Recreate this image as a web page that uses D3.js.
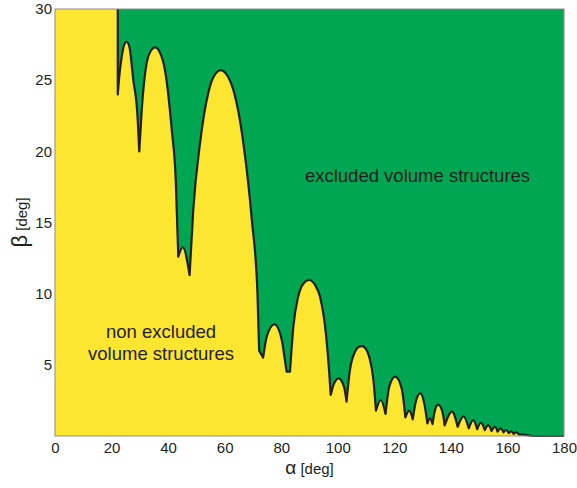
<!DOCTYPE html>
<html>
<head>
<meta charset="utf-8">
<script src="https://cdn.jsdelivr.net/npm/d3@7"></script>
<style>
  body { margin: 0; background: #fff; }
  svg { display: block; font-family: Arial, "Liberation Sans", sans-serif; }
</style>
</head>
<body>
<svg id="chart" width="577" height="488"></svg>
<script>
// boundary between the two regions (alpha, beta in deg)
const alphaDeg = [
  22.2, 22.2, 22.6, 23.6, 24.4, 25.3, 26.3, 27.7, 29.1, 29.8,
  30.6, 32.4, 33.7, 35.4, 37.2, 38.9, 41.3, 42.7, 43.6, 45.2,
  47.6, 48.9, 51.3, 54.2, 56.0, 58.6, 61.3, 63.1, 66.6, 69.6,
  71.6, 72.2, 73.6, 74.9, 77.6, 80.2, 81.3, 81.9, 83.1, 84.3,
  86.0, 87.8, 89.9, 92.0, 93.7, 95.8, 97.0, 97.5, 98.7, 100.3,
  102.2, 103.1, 104.3, 106.1, 107.3, 108.6, 110.0, 111.1, 112.6, 113.5,
  115.2, 116.9, 118.2, 120.3, 122.6, 123.9, 125.3, 126.5, 127.9, 129.2,
  130.6, 131.7, 132.6, 133.5, 134.4, 135.5, 137.0, 137.8, 140.4, 142.4,
  144.5, 146.3, 147.9, 149.3, 150.6, 152.0, 153.2, 154.4, 155.6, 156.5,
  157.6, 158.6, 159.5, 160.5, 161.3, 162.2, 163.2, 164.0, 166.8, 169.1,
  180
]
const betaDeg = [
  30, 24.0, 25.0, 26.65, 27.45, 27.7, 27.35, 25.0, 22.7, 20.0,
  22.7, 26.2, 27.0, 27.3, 26.9, 25.7, 21.5, 18.0, 12.6, 13.26,
  11.3, 15.9, 20.6, 24.1, 25.2, 25.7, 25.2, 24.3, 20.6, 15.2,
  10.0, 6.0, 5.5, 7.0, 7.85, 6.75, 5.34, 4.52, 4.52, 7.7,
  9.8, 10.7, 10.96, 10.6, 9.8, 7.2, 4.4, 2.88, 3.7, 4.05,
  3.46, 2.41, 4.64, 5.92, 6.25, 6.32, 6.1, 5.57, 3.94, 1.78,
  2.53, 1.55, 3.46, 4.17, 3.34, 1.31, 1.78, 1.17, 2.65, 3.0,
  2.29, 0.89, 1.24, 0.84, 1.83, 2.2, 1.71, 0.75, 1.71, 0.65,
  1.38, 0.54, 1.12, 0.47, 0.93, 0.42, 0.77, 0.35, 0.65, 0.30,
  0.54, 0.26, 0.42, 0.20, 0.32, 0.16, 0.25, 0.12, 0.07, 0.0,
  0
]
// indices of the cusps where one arc ends and the next one starts
const cuspIndex = [0, 1, 9, 18, 20, 31, 32, 37, 38, 47, 51, 59, 61, 65, 67,
  71, 73, 77, 79, 81, 83, 85, 87, 89, 91, 93, 95, 97, 99, 100]

const xTicks = [0, 20, 40, 60, 80, 100, 120, 140, 160, 180]
const yTicks = [5, 10, 15, 20, 25, 30]

const margin = { top: 9, right: 13, bottom: 52, left: 55 }
const width = 577 - margin.left - margin.right
const height = 488 - margin.top - margin.bottom
const ink = "#231f20"

const svg = d3.select("#chart")
const g = svg.append("g")
  .attr("transform", "translate(" + margin.left + "," + margin.top + ")")

const x = d3.scaleLinear().domain([0, 180]).range([0, width])
const y = d3.scaleLinear().domain([0, 30]).range([height, 0])

// one path made of several arcs; each arc keeps its own smooth curve
function boundaryPath(closed) {
  const p = d3.path()
  let first = true
  const ctx = {
    moveTo(a, b) { if (first) { p.moveTo(a, b); first = false } else p.lineTo(a, b) },
    lineTo(a, b) { p.lineTo(a, b) },
    bezierCurveTo(a, b, c, d, e, f) { p.bezierCurveTo(a, b, c, d, e, f) },
    closePath() { p.closePath() }
  }
  for (let s = 0; s < cuspIndex.length - 1; s++) {
    const seg = d3.range(cuspIndex[s], cuspIndex[s + 1] + 1)
      .map(i => [alphaDeg[i], betaDeg[i]])
    d3.line()
      .x(d => x(d[0]))
      .y(d => y(d[1]))
      .curve(seg.length > 2 ? d3.curveMonotoneX : d3.curveLinear)
      .context(ctx)(seg)
  }
  if (closed) {
    p.lineTo(x(180), y(30))
    p.closePath()
  }
  return p.toString()
}

g.append("rect")
  .attr("width", width)
  .attr("height", height)
  .style("fill", "#fde62f")

g.append("path")
  .attr("d", boundaryPath(true))
  .style("fill", "#00a651")

g.append("path")
  .attr("d", boundaryPath(false))
  .style("fill", "none")
  .style("stroke", ink)
  .style("stroke-width", 2.2)
  .style("stroke-linejoin", "round")

g.append("rect")
  .attr("width", width)
  .attr("height", height)
  .style("fill", "none")
  .style("stroke", "#8c8c8c")
  .style("stroke-width", 1)

// axes
const xAxis = g.append("g")
  .attr("transform", "translate(0," + height + ")")
  .call(d3.axisBottom(x).tickValues(xTicks).tickSize(0).tickPadding(6))
const yAxis = g.append("g")
  .call(d3.axisLeft(y).tickValues(yTicks).tickSize(0).tickPadding(3))

xAxis.select(".domain").remove()
yAxis.select(".domain").remove()
svg.selectAll(".tick text")
  .style("font-size", "15px")
  .style("font-family", "Arial, 'Liberation Sans', sans-serif")
  .style("fill", ink)

const xTitle = svg.append("text")
  .attr("x", margin.left + width / 2)
  .attr("y", 474)
  .attr("text-anchor", "middle")
  .style("fill", ink)
xTitle.append("tspan").style("font-size", "19px").text("α")
xTitle.append("tspan").style("font-size", "15px").text(" [deg]")

const yTitle = svg.append("text")
  .attr("transform", "translate(27," + (margin.top + height / 2) + ") rotate(-90)")
  .attr("text-anchor", "middle")
  .style("fill", ink)
yTitle.append("tspan").style("font-size", "22px").text("β")
yTitle.append("tspan").style("font-size", "15px").text(" [deg]")

// region labels
g.append("text")
  .attr("x", x(128.2))
  .attr("y", 173)
  .attr("text-anchor", "middle")
  .style("font-size", "18.5px")
  .style("fill", ink)
  .text("excluded volume structures")

const lower = g.append("text")
  .attr("x", x(37.5))
  .attr("y", 329)
  .attr("text-anchor", "middle")
  .style("font-size", "18.5px")
  .style("fill", ink)
lower.append("tspan").text("non excluded")
lower.append("tspan").attr("x", x(37.5)).attr("y", 351).text("volume structures")
</script>
</body>
</html>
